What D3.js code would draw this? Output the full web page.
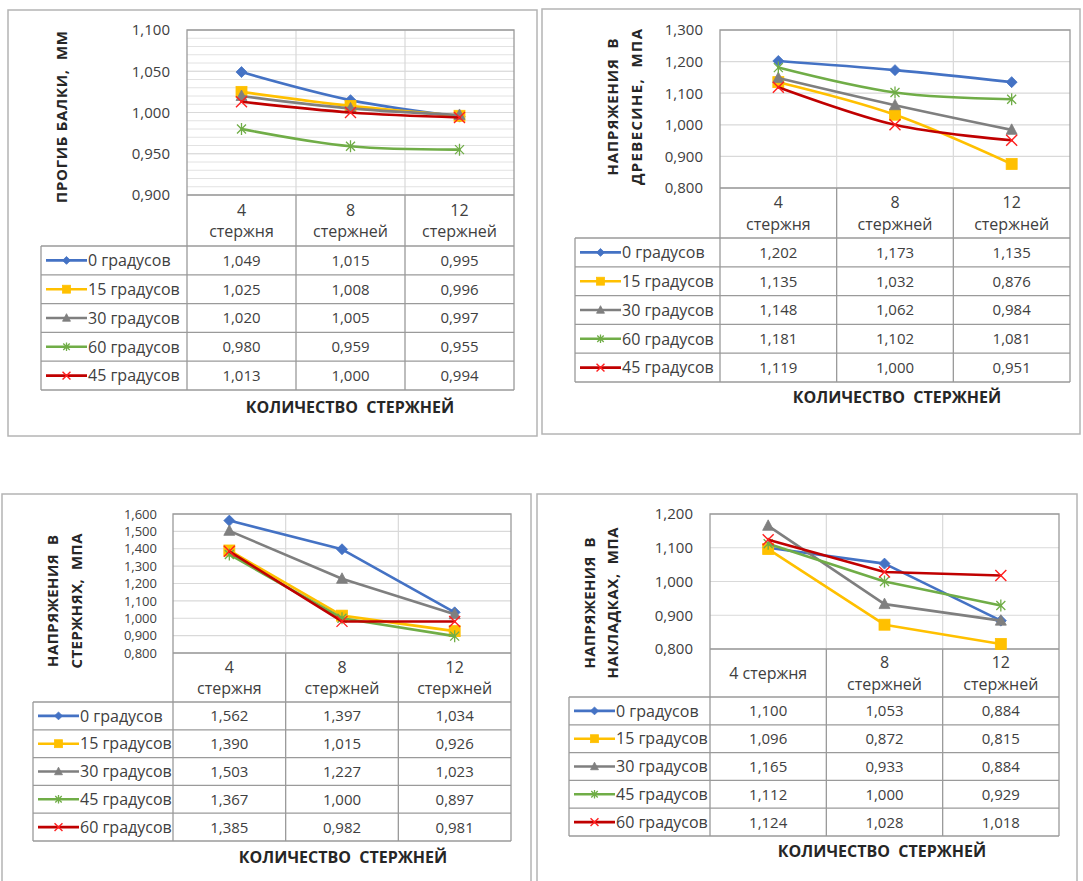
<!DOCTYPE html>
<html>
<head>
<meta charset="utf-8">
<script src="https://cdn.jsdelivr.net/npm/d3@7"></script>
<style>
  html, body { margin: 0; padding: 0; background: #fff; }
  svg { display: block; font-family: "Open Sans", "Noto Sans", sans-serif; }
</style>
</head>
<body>
<svg id="chart" width="1083" height="881"></svg>
<script>
// ---- data ----
const categories = ["4 стержня", "8 стержней", "12 стержней"];

const anglesA = ["0 градусов", "15 градусов", "30 градусов", "60 градусов", "45 градусов"];
const anglesB = ["0 градусов", "15 градусов", "30 градусов", "45 градусов", "60 градусов"];

// прогиб балки, мм
const deflection = [
  [1.049, 1.015, 0.995],
  [1.025, 1.008, 0.996],
  [1.020, 1.005, 0.997],
  [0.980, 0.959, 0.955],
  [1.013, 1.000, 0.994]
];
// напряжения в древесине, МПа
const woodStress = [
  [1.202, 1.173, 1.135],
  [1.135, 1.032, 0.876],
  [1.148, 1.062, 0.984],
  [1.181, 1.102, 1.081],
  [1.119, 1.000, 0.951]
];
// напряжения в стержнях, МПа
const rodStress = [
  [1.562, 1.397, 1.034],
  [1.390, 1.015, 0.926],
  [1.503, 1.227, 1.023],
  [1.367, 1.000, 0.897],
  [1.385, 0.982, 0.981]
];
// напряжения в накладках, МПа
const padStress = [
  [1.100, 1.053, 0.884],
  [1.096, 0.872, 0.815],
  [1.165, 0.933, 0.884],
  [1.112, 1.000, 0.929],
  [1.124, 1.028, 1.018]
];

const deflectionTicks = [0.900, 0.950, 1.000, 1.050, 1.100];
const woodTicks = [0.800, 0.900, 1.000, 1.100, 1.200, 1.300];
const rodTicks = [0.800, 0.900, 1.000, 1.100, 1.200, 1.300, 1.400, 1.500, 1.600];
const padTicks = [0.800, 0.900, 1.000, 1.100, 1.200];

const xTitle = "КОЛИЧЕСТВО  СТЕРЖНЕЙ";

// ---- styling ----
const seriesColors = ["#4472C4", "#FFC000", "#7F7F7F", "#70AD47", "#C00000"];
const markerKinds = ["diamond", "square", "triangle", "star", "cross"];
const TEXT = "#404040";
const TABLE_LINE = "#9a9a9a";
const GRID = "#d9d9d9";

const fmt = d3.formatLocale({ decimal: ",", thousands: " ", grouping: [3], currency: ["", ""] }).format(".3f");

const panels = [
  {
    values: deflection, names: anglesA, ticks: deflectionTicks, minorStep: 0.01, smooth: true, tickSize: 15,
    yTitle: ["ПРОГИБ БАЛКИ,  ММ"], yTitleX: [62], yTitleY: 117, yTitleLen: [172],
    frame: [8, 10, 529, 426], plot: { l: 187, r: 514, t: 30, b: 195 },
    headerBottom: 246, tableBottom: 390, legendLeft: 41, tickRight: 170,
    xTitlePos: [350, 407], oneLine: []
  },
  {
    values: woodStress, names: anglesA, ticks: woodTicks, smooth: true, tickSize: 15,
    yTitle: ["НАПРЯЖЕНИЯ  В", "ДРЕВЕСИНЕ,  МПА"], yTitleX: [613, 637], yTitleY: 107, yTitleLen: [137, 156],
    frame: [542, 9, 538, 425], plot: { l: 720, r: 1070, t: 30, b: 188 },
    headerBottom: 238, tableBottom: 382, legendLeft: 575, tickRight: 703,
    xTitlePos: [897, 397], oneLine: []
  },
  {
    values: rodStress, names: anglesB, ticks: rodTicks, smooth: false, tickSize: 13,
    yTitle: ["НАПРЯЖЕНИЯ  В", "СТЕРЖНЯХ,  МПА"], yTitleX: [53, 77], yTitleY: 601, yTitleLen: [132, 135],
    frame: [2, 494, 529, 420], plot: { l: 173, r: 511, t: 514, b: 653 },
    headerBottom: 702, tableBottom: 841, legendLeft: 33, tickRight: 157,
    xTitlePos: [343, 857], oneLine: []
  },
  {
    values: padStress, names: anglesB, ticks: padTicks, smooth: false, tickSize: 15,
    yTitle: ["НАПРЯЖЕНИЯ  В", "НАКЛАДКАХ,  МПА"], yTitleX: [590, 613], yTitleY: 603, yTitleLen: [131, 151],
    frame: [537, 494, 540, 420], plot: { l: 710, r: 1059, t: 514, b: 649 },
    headerBottom: 697, tableBottom: 836, legendLeft: 569, tickRight: 693,
    xTitlePos: [882, 851], oneLine: ["4 стержня"]
  }
];

const svg = d3.select("#chart");

function drawMarker(g, kind, color, cx, cy, s) {
  const m = g.append("g").attr("transform", `translate(${cx},${cy})`);
  if (kind === "diamond") {
    m.append("path").attr("d", `M0,${-5.5*s}L${5.5*s},0L0,${5.5*s}L${-5.5*s},0Z`)
      .attr("fill", color).attr("stroke", color).attr("stroke-width", 0.8);
  } else if (kind === "square") {
    m.append("rect").attr("x", -5.5*s).attr("y", -5.5*s).attr("width", 11*s).attr("height", 11*s)
      .attr("fill", color).attr("stroke", color).attr("stroke-width", 0.8);
  } else if (kind === "triangle") {
    m.append("path").attr("d", `M0,${-6*s}L${5.5*s},${4.5*s}L${-5.5*s},${4.5*s}Z`)
      .attr("fill", color).attr("stroke", color).attr("stroke-width", 0.8);
  } else if (kind === "star") {
    const a = 4.5*s, v = 6*s;
    m.append("path").attr("d", `M${-a},${-a}L${a},${a}M${-a},${a}L${a},${-a}M0,${-v}L0,${v}`)
      .attr("fill", "none").attr("stroke", color).attr("stroke-width", 1.3);
  } else {
    const a = 5.5*s;
    m.append("path").attr("d", `M${-a},${-a}L${a},${a}M${-a},${a}L${a},${-a}`)
      .attr("fill", "none").attr("stroke", "#ff2020").attr("stroke-width", 1.4);
  }
}

function drawPanel(p) {
  const g = svg.append("g");
  const { l, r, t, b } = p.plot;

  // chart frame
  g.append("rect").attr("x", p.frame[0]).attr("y", p.frame[1])
    .attr("width", p.frame[2]).attr("height", p.frame[3])
    .attr("fill", "#fff").attr("stroke", "#b4b4b4").attr("stroke-width", 1.5);

  const x = d3.scaleBand().domain(categories).range([l, r]);
  const cx = c => x(c) + x.bandwidth() / 2;
  const y = d3.scaleLinear().domain(d3.extent(p.ticks)).range([b, t]);
  const rows = d3.scaleBand().domain(p.names).range([p.headerBottom, p.tableBottom]);

  // horizontal gridlines
  if (p.minorStep) {
    const [lo, hi] = y.domain();
    const minor = d3.range(Math.round((hi - lo) / p.minorStep) + 1).map(i => lo + i * p.minorStep);
    g.selectAll(null).data(minor).join("line")
      .attr("x1", l).attr("x2", r).attr("y1", d => y(d)).attr("y2", d => y(d))
      .attr("stroke", "#e2e2e2").attr("stroke-width", 1);
  }
  g.selectAll(null).data(p.ticks).join("line")
    .attr("x1", l).attr("x2", r).attr("y1", d => y(d)).attr("y2", d => y(d))
    .attr("stroke", GRID).attr("stroke-width", 1.2);

  // vertical gridlines at category boundaries inside the plot
  g.selectAll(null).data(categories.slice(1)).join("line")
    .attr("x1", d => x(d)).attr("x2", d => x(d)).attr("y1", t).attr("y2", b)
    .attr("stroke", GRID).attr("stroke-width", 1.2);

  // plot border
  g.append("path").attr("d", `M${l},${b}V${t}H${r}V${b}`)
    .attr("fill", "none").attr("stroke", TABLE_LINE).attr("stroke-width", 1.3);

  // y tick labels
  g.selectAll(null).data(p.ticks).join("text")
    .attr("x", p.tickRight).attr("y", d => y(d)).attr("dy", "0.36em")
    .attr("text-anchor", "end").attr("font-size", p.tickSize).attr("fill", TEXT)
    .text(d => fmt(d));

  // data table grid
  const tl = g.append("g").attr("stroke", TABLE_LINE).attr("stroke-width", 1.3).attr("fill", "none");
  tl.append("line").attr("x1", l).attr("x2", r).attr("y1", b).attr("y2", b);
  [p.headerBottom, ...p.names.map(n => rows(n) + rows.bandwidth())].forEach(yy => {
    tl.append("line").attr("x1", p.legendLeft).attr("x2", r).attr("y1", yy).attr("y2", yy);
  });
  tl.append("line").attr("x1", p.legendLeft).attr("x2", p.legendLeft).attr("y1", p.headerBottom).attr("y2", p.tableBottom);
  [l, ...categories.slice(1).map(c => x(c)), r].forEach(xx => {
    tl.append("line").attr("x1", xx).attr("x2", xx).attr("y1", b).attr("y2", p.tableBottom);
  });

  // category header labels
  const headerMid = (b + p.headerBottom) / 2;
  categories.forEach(c => {
    const lines = p.oneLine.includes(c) ? [c] : c.split(" ");
    const t0 = g.append("text").attr("text-anchor", "middle").attr("font-size", 16).attr("fill", TEXT);
    lines.forEach((s, i) => {
      t0.append("tspan").attr("x", cx(c))
        .attr("y", headerMid + (i - (lines.length - 1) / 2) * 21.5)
        .attr("dy", "0.36em").text(s);
    });
  });

  // series lines and markers
  const line = d3.line()
    .x((v, i) => cx(categories[i]))
    .y(v => y(v))
    .curve(p.smooth ? d3.curveCatmullRom.alpha(0) : d3.curveLinear);

  p.values.forEach((vals, si) => {
    g.append("path").attr("d", line(vals)).attr("fill", "none")
      .attr("stroke", seriesColors[si]).attr("stroke-width", 2.6)
      .attr("stroke-linejoin", "round").attr("stroke-linecap", "round");
    vals.forEach((v, i) => drawMarker(g, markerKinds[si], seriesColors[si], cx(categories[i]), y(v), 1));
  });

  // legend keys and values
  p.names.forEach((n, si) => {
    const ry = rows(n) + rows.bandwidth() / 2;
    const k0 = p.legendLeft + 5, k1 = p.legendLeft + 46;
    g.append("line").attr("x1", k0).attr("x2", k1).attr("y1", ry).attr("y2", ry)
      .attr("stroke", seriesColors[si]).attr("stroke-width", 2.6);
    drawMarker(g, markerKinds[si], seriesColors[si], (k0 + k1) / 2, ry, 0.72);
    g.append("text").attr("x", k1 + 1).attr("y", ry).attr("dy", "0.36em")
      .attr("font-size", 16).attr("fill", TEXT).text(n);
    p.values[si].forEach((v, i) => {
      g.append("text").attr("x", cx(categories[i])).attr("y", ry).attr("dy", "0.36em")
        .attr("text-anchor", "middle").attr("font-size", 15).attr("fill", TEXT).text(fmt(v));
    });
  });

  // axis titles
  g.append("text").attr("x", p.xTitlePos[0]).attr("y", p.xTitlePos[1]).attr("dy", "0.36em")
    .attr("text-anchor", "middle").attr("font-size", 16).attr("font-weight", 700)
    .attr("fill", "#262626").style("white-space", "pre").text(xTitle);

  p.yTitle.forEach((s, i) => {
    g.append("text")
      .attr("transform", `translate(${p.yTitleX[i]},${p.yTitleY}) rotate(-90)`)
      .attr("dy", "0.36em").attr("text-anchor", "middle")
      .attr("font-size", 15).attr("font-weight", 700).attr("fill", "#262626")
      .attr("textLength", p.yTitleLen[i]).attr("lengthAdjust", "spacing")
      .style("white-space", "pre").text(s);
  });
}

// bottom panels first so the upper frames sit on top of any overlap
[panels[2], panels[3], panels[0], panels[1]].forEach(drawPanel);
</script>
</body>
</html>
